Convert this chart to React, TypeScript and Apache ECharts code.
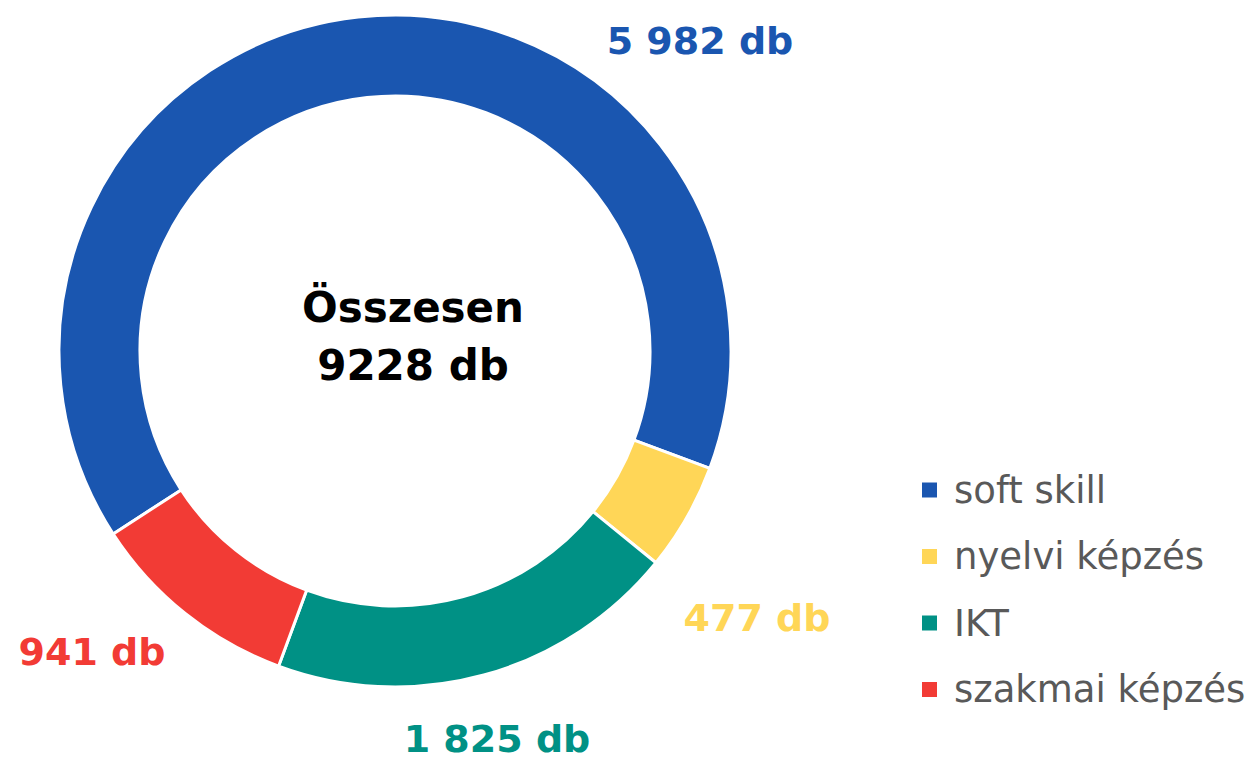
import React, { useEffect, useRef } from "react";
import * as echarts from "echarts";

const categories = ["soft skill", "nyelvi képzés", "IKT", "szakmai képzés"];
const values = [5982, 477, 1825, 941];
const valueLabels = ["5 982 db", "477 db", "1 825 db", "941 db"];
const colors = ["#1A56B0", "#FFD657", "#009185", "#F23B35"];
const centerLines = ["Összesen", "9228 db"];

// label anchor positions (layout only)
const labelPos = [
  [700, 41],
  [757, 618],
  [497, 739],
  [92, 652],
];

export default function App() {
  const ref = useRef<HTMLDivElement>(null);
  useEffect(() => {
    const chart = echarts.init(ref.current!, null, { renderer: "svg" });
    const font = "Tahoma, 'DejaVu Sans', sans-serif";
    chart.setOption({
      animation: false,
      textStyle: { fontFamily: font },
      legend: {
        orient: "vertical",
        left: 920,
        top: 470,
        padding: 0,
        itemWidth: 17,
        itemHeight: 17,
        itemGap: 26.5,
        icon: "rect",
        data: categories,
        textStyle: {
          fontSize: 37,
          color: "#595959",
          fontFamily: font,
          lineHeight: 40,
          padding: [0, 0, 0, 11],
        },
      },
      graphic: [
        {
          type: "text",
          x: 413,
          y: 336,
          style: {
            text: centerLines.join("\n"),
            font: `bold 42px ${font}`,
            fill: "#000",
            align: "center",
            verticalAlign: "middle",
            lineHeight: 58,
          },
        },
      ],
      series: [
        {
          type: "pie",
          center: [395, 351],
          radius: [255, 336],
          startAngle: 213,
          clockwise: true,
          itemStyle: { borderColor: "#fff", borderWidth: 3 },
          labelLine: { show: false },
          label: {
            show: true,
            position: "outside",
            fontSize: 38,
            fontWeight: "bold",
            fontFamily: font,
            overflow: "none",
            width: 300,
            formatter: (p: any) => valueLabels[p.dataIndex],
          },
          labelLayout: (p: any) => ({
            x: labelPos[p.dataIndex][0],
            y: labelPos[p.dataIndex][1],
            align: "center",
            verticalAlign: "middle",
            hideOverlap: false,
          }),
          data: categories.map((c, i) => ({
            name: c,
            value: values[i],
            itemStyle: { color: colors[i] },
            label: { color: colors[i] },
          })),
        },
      ],
    });
    return () => chart.dispose();
  }, []);
  return (
    <div
      ref={ref}
      style={{ position: "fixed", left: 0, top: 0, width: 1246, height: 761, background: "#fff" }}
    />
  );
}
